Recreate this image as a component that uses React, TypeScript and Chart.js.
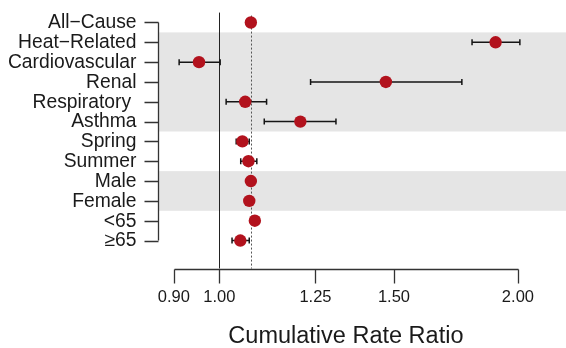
import React, { useEffect, useRef } from "react";
import { Chart, registerables } from "chart.js";

Chart.register(...registerables);

const categories = [
  "All\u2212Cause",
  "Heat\u2212Related",
  "Cardiovascular",
  "Renal",
  "Respiratory ",
  "Asthma",
  "Spring",
  "Summer",
  "Male",
  "Female",
  "<65",
  "\u226565",
];
const estimates = [1.076, 1.899, 0.954, 1.472, 1.062, 1.207, 1.055, 1.07, 1.076, 1.072, 1.086, 1.05];
const lowerCI = [1.071, 1.798, 0.911, 1.236, 1.016, 1.11, 1.04, 1.051, 1.07, 1.066, 1.08, 1.03];
const upperCI = [1.081, 2.009, 1.002, 1.756, 1.116, 1.311, 1.072, 1.091, 1.082, 1.078, 1.092, 1.072];
const xTickValues = [0.9, 1.0, 1.25, 1.5, 2.0];
const xTickLabels = ["0.90", "1.00", "1.25", "1.50", "2.00"];
const shadedGroups = [
  [1, 5],
  [8, 9],
];
const nullValue = 1.0;
const axisTitle = "Cumulative Rate Ratio";

const FONT = "'Liberation Sans', Arial, Helvetica, sans-serif";

const forestPlugin = {
  id: "forest",
  beforeDatasetsDraw(chart: any) {
    const { ctx, chartArea, scales } = chart;
    const xs = scales.x;
    const ys = scales.y;
    ctx.save();

    // shaded bands
    ctx.fillStyle = "#E5E5E5";
    for (const [a, b] of shadedGroups) {
      const t = ys.getPixelForValue(a - 0.5);
      const bt = ys.getPixelForValue(b + 0.5);
      ctx.fillRect(chartArea.left, t, chartArea.right - chartArea.left, bt - t);
    }

    const axisY = Math.round(chartArea.bottom) + 0.5;

    // null line
    const xn = Math.round(xs.getPixelForValue(nullValue)) + 0.5;
    ctx.strokeStyle = "#222";
    ctx.lineWidth = 1;
    ctx.beginPath();
    ctx.moveTo(xn, ys.getPixelForValue(-0.5));
    ctx.lineTo(xn, axisY - 1);
    ctx.stroke();

    // dotted overall line
    const xd = Math.round(xs.getPixelForValue(estimates[0])) + 0.5;
    ctx.strokeStyle = "#555";
    ctx.setLineDash([2, 2]);
    ctx.beginPath();
    ctx.moveTo(xd, ys.getPixelForValue(-0.35));
    ctx.lineTo(xd, axisY - 1);
    ctx.stroke();
    ctx.setLineDash([]);

    // error bars
    ctx.strokeStyle = "#151515";
    ctx.lineWidth = 1.5;
    categories.forEach((_, i) => {
      const y = ys.getPixelForValue(i);
      const l = xs.getPixelForValue(lowerCI[i]);
      const u = xs.getPixelForValue(upperCI[i]);
      ctx.beginPath();
      ctx.moveTo(l, y);
      ctx.lineTo(u, y);
      ctx.moveTo(l, y - 3);
      ctx.lineTo(l, y + 3);
      ctx.moveTo(u, y - 3);
      ctx.lineTo(u, y + 3);
      ctx.stroke();
    });

    // y axis
    const ax = Math.round(chartArea.left) - 0.5;
    ctx.strokeStyle = "#333";
    ctx.lineWidth = 1.3;
    ctx.beginPath();
    ctx.moveTo(ax, ys.getPixelForValue(0));
    ctx.lineTo(ax, ys.getPixelForValue(categories.length - 1));
    categories.forEach((_, i) => {
      const y = Math.round(ys.getPixelForValue(i)) + 0.5;
      ctx.moveTo(ax - 14, y);
      ctx.lineTo(ax, y);
    });
    ctx.stroke();
    ctx.fillStyle = "#1a1a1a";
    ctx.font = `19.3px ${FONT}`;
    ctx.textAlign = "right";
    ctx.textBaseline = "middle";
    categories.forEach((c, i) => {
      ctx.fillText(c, ax - 22, ys.getPixelForValue(i) + 0.5);
    });

    // x axis
    const x0 = xs.getPixelForValue(xTickValues[0]);
    const x1 = xs.getPixelForValue(xTickValues[xTickValues.length - 1]);
    ctx.beginPath();
    ctx.moveTo(Math.round(x0) + 0.5, axisY);
    ctx.lineTo(Math.round(x1) + 0.5, axisY);
    xTickValues.forEach((v) => {
      const x = Math.round(xs.getPixelForValue(v)) + 0.5;
      ctx.moveTo(x, axisY);
      ctx.lineTo(x, axisY + 14);
    });
    ctx.stroke();
    ctx.font = `16.5px ${FONT}`;
    ctx.textAlign = "center";
    xTickValues.forEach((v, i) => {
      ctx.fillText(xTickLabels[i], xs.getPixelForValue(v), axisY + 28);
    });
    ctx.font = `23.5px ${FONT}`;
    ctx.fillText(axisTitle, (x0 + x1) / 2, axisY + 67);

    ctx.restore();
  },
};

export default function App() {
  const ref = useRef<HTMLCanvasElement | null>(null);
  useEffect(() => {
    if (!ref.current) return;
    const chart = new Chart(ref.current, {
      type: "scatter",
      data: {
        datasets: [
          {
            data: estimates.map((v, i) => ({ x: v, y: i })),
            pointRadius: 6.2,
            pointHoverRadius: 6.2,
            pointBackgroundColor: "#B2121D",
            pointBorderWidth: 0,
            showLine: false,
          },
        ],
      },
      options: {
        animation: false,
        responsive: false,
        events: [],
        layout: { autoPadding: false, padding: { left: 159, right: 0, top: 0, bottom: 79 } },
        plugins: { legend: { display: false }, tooltip: { enabled: false } },
        scales: {
          x: { type: "logarithmic", display: false, min: 0.8694, max: 2.2361, bounds: "data" },
          y: { type: "linear", display: false, reverse: true, min: -1.1352, max: 12.437 },
        },
      },
      plugins: [forestPlugin],
    });
    return () => chart.destroy();
  }, []);
  return (
    <div style={{ position: "absolute", left: 0, top: 0, width: 566, height: 348 }}>
      <canvas ref={ref} width={566} height={348} style={{ width: 566, height: 348 }} />
    </div>
  );
}
